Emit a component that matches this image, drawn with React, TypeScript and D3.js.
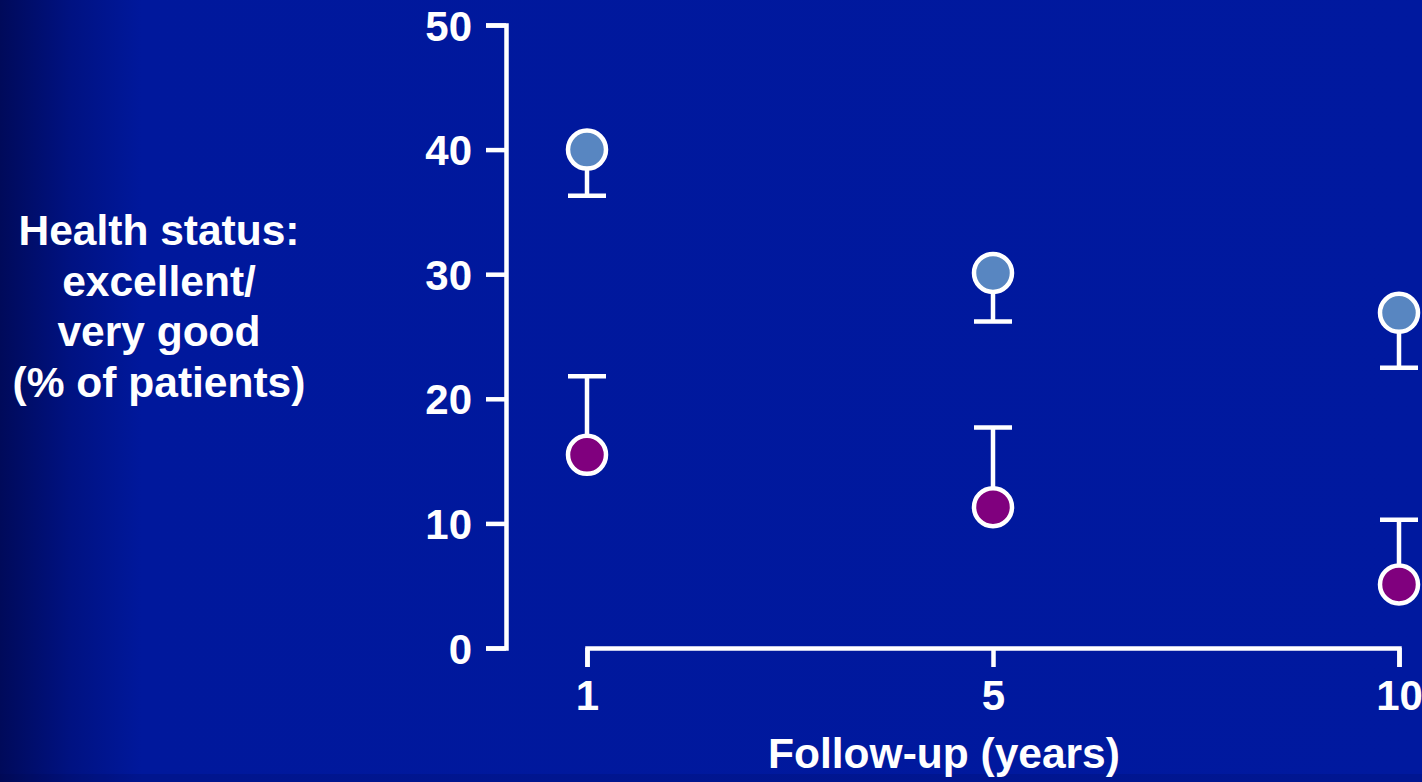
import React, { useEffect, useRef } from "react";
import * as d3 from "d3";

const W = 1422;
const H = 782;

const years = ["1", "5", "10"];
const yTicks = [0, 10, 20, 30, 40, 50];

// Excellent/very good health status, upper group (blue) with lower error bar
const blueValues = [40.0, 30.1, 26.9];
const blueLower = [36.3, 26.2, 22.5];
// Lower group (purple) with upper error bar
const purpleValues = [15.5, 11.3, 5.1];
const purpleUpper = [21.8, 17.7, 10.3];

const yLabelLines = ["Health status:", "excellent/", "very good", "(% of patients)"];
const xLabel = "Follow-up (years)";

const FONT = "'Liberation Sans', Arial, Helvetica, sans-serif";

export default function App() {
  const ref = useRef<SVGSVGElement | null>(null);

  useEffect(() => {
    const svg = d3.select(ref.current);
    svg.selectAll("*").remove();

    const defs = svg.append("defs");
    const grad = defs
      .append("linearGradient")
      .attr("id", "bg")
      .attr("x1", "0")
      .attr("x2", "1")
      .attr("y1", "0")
      .attr("y2", "0");
    grad.append("stop").attr("offset", "0").attr("stop-color", "#000a5a");
    grad.append("stop").attr("offset", "0.05").attr("stop-color", "#001282");
    grad.append("stop").attr("offset", "0.1").attr("stop-color", "#00189c");
    grad.append("stop").attr("offset", "1").attr("stop-color", "#00199f");

    svg.append("rect").attr("width", W).attr("height", H).attr("fill", "url(#bg)");
    svg
      .append("rect")
      .attr("y", H - 8)
      .attr("width", W)
      .attr("height", 8)
      .attr("fill", "#000a40")
      .attr("opacity", 0.15);

    const y = d3.scaleLinear().domain([0, 50]).range([648, 25]);
    const x = d3.scalePoint<string>().domain(years).range([587, 1399]);

    const SW = 4.5;

    // Y axis
    const yAxis = svg
      .append("g")
      .attr("transform", "translate(506,0)")
      .call(
        d3
          .axisLeft(y)
          .tickValues(yTicks)
          .tickSize(20)
          .tickSizeOuter(20)
          .tickPadding(14)
          .tickFormat(d3.format("d"))
      );
    yAxis.select(".domain").attr("stroke", "#fff").attr("stroke-width", SW).attr("fill", "none");
    yAxis.selectAll(".tick line").attr("stroke", "#fff").attr("stroke-width", SW);
    yAxis
      .selectAll(".tick text")
      .attr("fill", "#fff")
      .attr("font-family", FONT)
      .attr("font-weight", "bold")
      .attr("font-size", 42)
      .attr("dy", "0.36em");

    // X axis
    const xAxis = svg
      .append("g")
      .attr("transform", "translate(0,648)")
      .call(d3.axisBottom(x).tickSize(19).tickSizeOuter(19).tickPadding(14));
    xAxis.select(".domain").attr("stroke", "#fff").attr("stroke-width", SW).attr("fill", "none");
    xAxis.selectAll(".tick line").attr("stroke", "#fff").attr("stroke-width", SW);
    xAxis
      .selectAll(".tick text")
      .attr("fill", "#fff")
      .attr("font-family", FONT)
      .attr("font-weight", "bold")
      .attr("font-size", 42)
      .attr("dy", "0.68em");

    // Axis titles
    svg
      .append("text")
      .attr("x", 944)
      .attr("y", 768)
      .attr("text-anchor", "middle")
      .attr("fill", "#fff")
      .attr("font-family", FONT)
      .attr("font-weight", "bold")
      .attr("font-size", 42.5)
      .text(xLabel);

    const yl = svg
      .append("text")
      .attr("text-anchor", "middle")
      .attr("fill", "#fff")
      .attr("font-family", FONT)
      .attr("font-weight", "bold")
      .attr("font-size", 42.5);
    yLabelLines.forEach((line, i) => {
      yl.append("tspan").attr("x", 159).attr("y", 245 + i * 50.5).text(line);
    });

    const cap = 19;
    const r = 19;

    // Error bars
    const drawErr = (vals: number[], ends: number[]) => {
      const g = svg.append("g").attr("stroke", "#fff").attr("stroke-width", SW).attr("fill", "none");
      years.forEach((yr, i) => {
        const cx = x(yr)!;
        g.append("line").attr("x1", cx).attr("x2", cx).attr("y1", y(vals[i])).attr("y2", y(ends[i]));
        g.append("line")
          .attr("x1", cx - cap)
          .attr("x2", cx + cap)
          .attr("y1", y(ends[i]))
          .attr("y2", y(ends[i]));
      });
    };
    drawErr(blueValues, blueLower);
    drawErr(purpleValues, purpleUpper);

    const drawPts = (vals: number[], color: string) => {
      svg
        .append("g")
        .selectAll("circle")
        .data(vals)
        .join("circle")
        .attr("cx", (_d, i) => x(years[i])!)
        .attr("cy", (d) => y(d))
        .attr("r", r)
        .attr("fill", color)
        .attr("stroke", "#fff")
        .attr("stroke-width", SW);
    };
    drawPts(blueValues, "#5886c1");
    drawPts(purpleValues, "#80007e");
  }, []);

  return (
    <svg
      ref={ref}
      width={W}
      height={H}
      style={{ position: "fixed", left: 0, top: 0, display: "block" }}
    />
  );
}
